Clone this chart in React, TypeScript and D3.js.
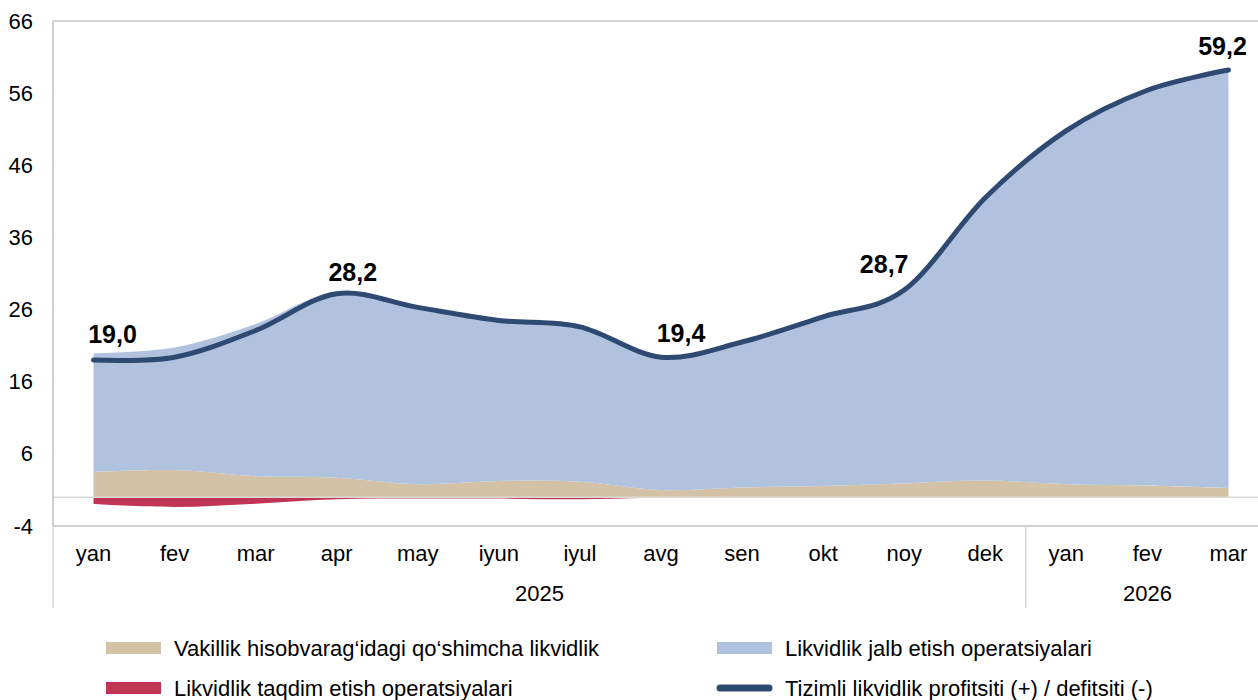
import React from "react";
import * as d3 from "d3";

// oylar va yillar
const months = ["yan", "fev", "mar", "apr", "may", "iyun", "iyul", "avg", "sen", "okt", "noy", "dek", "yan", "fev", "mar"];
const years = [
  { label: "2025", from: 0, to: 11 },
  { label: "2026", from: 12, to: 14 },
];

// qatorlar (mlrd so'm / trln)
const vakillik = [3.5, 3.75, 2.9, 2.7, 1.8, 2.25, 2.15, 1.0, 1.35, 1.55, 1.9, 2.3, 1.8, 1.6, 1.25];
const jalb = [16.45, 17.0, 21.1, 25.8, 24.7, 22.45, 21.75, 18.5, 20.15, 23.45, 26.8, 39.2, 49.0, 54.8, 57.95];
const taqdim = [-0.95, -1.35, -0.9, -0.3, -0.2, -0.2, -0.3, -0.1, 0, 0, 0, 0, 0, 0, 0];
const tizimli = [19.0, 19.4, 23.1, 28.2, 26.3, 24.5, 23.6, 19.4, 21.5, 25.0, 28.7, 41.5, 50.8, 56.4, 59.2];

const yTicks = [-4, 6, 16, 26, 36, 46, 56, 66];
const labelIdx = [0, 3, 7, 10, 14];

const legendItems = [
  { name: "Vakillik hisobvarag\u2018idagi qo\u2018shimcha likvidlik", color: "#d4c2a6", type: "rect" },
  { name: "Likvidlik jalb etish operatsiyalari", color: "#b0c2de", type: "rect" },
  { name: "Likvidlik taqdim etish operatsiyalari", color: "#c03455", type: "rect" },
  { name: "Tizimli likvidlik profitsiti (+) / defitsiti (-)", color: "#2e4a72", type: "line" },
];

const W = 1258, H = 700;
const font = "'Liberation Sans', Arial, sans-serif";

export default function App() {
  const x = d3.scaleBand<number>().domain(d3.range(months.length)).range([53, 1269]).padding(0);
  const cx = (i: number) => (x(i) as number) + x.bandwidth() / 2;
  const y = d3.scaleLinear().domain([-4, 66]).range([526, 21]);

  const table = months.map((m, i) => ({ i, vakillik: vakillik[i], jalb: jalb[i] }));
  const stacked = d3.stack<any>().keys(["vakillik", "jalb"])(table);
  const curve = d3.curveCardinal.tension(0);

  const area = d3.area<any>()
    .x((d) => cx(d.data.i))
    .y0((d) => y(d[0]))
    .y1((d) => y(d[1]))
    .curve(curve);

  const redArea = d3.area<number>()
    .x((_, i) => cx(i))
    .y0(y(0))
    .y1((d) => y(d))
    .curve(curve);

  const line = d3.line<number>()
    .x((_, i) => cx(i))
    .y((d) => y(d))
    .curve(curve);

  // joylashuv (Excel'dagi kabi qo'lda surilgan yorliqlar)
  const labelShift: Record<number, [number, number]> = {
    0: [19, -26], 3: [16, -22], 7: [20, -24], 10: [-20, -26], 14: [-6, -24],
  };

  const right = W;
  const sepX = x(12) as number;

  return (
    <svg width={W} height={H} style={{ position: "absolute", left: 0, top: 0, background: "#fff" }} fontFamily={font}>
      {/* areas */}
      <path d={redArea(taqdim) || ""} fill="#c03455" />
      <path d={area(stacked[0] as any) || ""} fill="#d4c2a6" />
      <path d={area(stacked[1] as any) || ""} fill="#b0c2de" />

      {/* zero line + frame */}
      <line x1={53} x2={right} y1={y(0)} y2={y(0)} stroke="#d9d9d9" strokeWidth={1.5} />
      <line x1={53} x2={right} y1={y(66)} y2={y(66)} stroke="#c8c8c8" strokeWidth={1.5} />
      <line x1={53} x2={right} y1={y(-4)} y2={y(-4)} stroke="#bfbfbf" strokeWidth={1.5} />
      <line x1={53} x2={53} y1={y(66)} y2={y(-4)} stroke="#bfbfbf" strokeWidth={1.5} />
      <line x1={53} x2={53} y1={y(-4)} y2={608} stroke="#d9d9d9" strokeWidth={1.5} />
      <line x1={sepX} x2={sepX} y1={y(-4)} y2={608} stroke="#d9d9d9" strokeWidth={1.5} />

      {/* line */}
      <path d={line(tizimli) || ""} fill="none" stroke="#2e4a72" strokeWidth={5} strokeLinecap="round" strokeLinejoin="round" />

      {/* y axis */}
      {yTicks.map((t) => (
        <text key={t} x={33} y={y(t)} textAnchor="end" dominantBaseline="central" fontSize={22} fill="#000">{t}</text>
      ))}

      {/* x axis */}
      {months.map((m, i) => (
        <text key={i} x={cx(i)} y={553} textAnchor="middle" dominantBaseline="central" fontSize={22} fill="#000">{m}</text>
      ))}
      {years.map((yr) => (
        <text key={yr.label} x={(cx(yr.from) + cx(yr.to)) / 2} y={593} textAnchor="middle" dominantBaseline="central" fontSize={22} fill="#000">{yr.label}</text>
      ))}

      {/* data labels */}
      {labelIdx.map((i) => (
        <text key={i} x={cx(i) + labelShift[i][0]} y={y(tizimli[i]) + labelShift[i][1]} textAnchor="middle" dominantBaseline="central" fontSize={25} fontWeight="bold" fill="#000">
          {tizimli[i].toFixed(1).replace(".", ",")}
        </text>
      ))}

      {/* legend */}
      {legendItems.map((it, k) => {
        const lx = k % 2 === 0 ? 106 : 717;
        const ly = k < 2 ? 648 : 688;
        return (
          <g key={it.name}>
            {it.type === "rect" ? (
              <rect x={lx} y={ly - 6} width={55} height={12} fill={it.color} />
            ) : (
              <line x1={lx + 3} x2={lx + 52} y1={ly} y2={ly} stroke={it.color} strokeWidth={7} strokeLinecap="round" />
            )}
            <text x={lx + 68} y={ly} dominantBaseline="central" fontSize={22} fill="#000">{it.name}</text>
          </g>
        );
      })}
    </svg>
  );
}
